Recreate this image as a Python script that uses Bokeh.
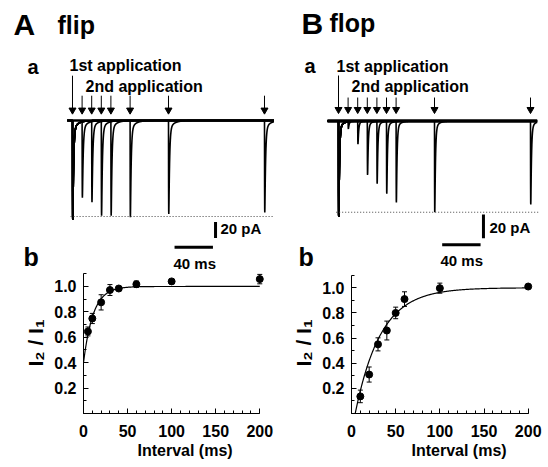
import numpy as np
from bokeh.plotting import figure
from bokeh.models import (Range1d, Label, Whisker, TeeHead, ColumnDataSource,
                          FixedTicker, PrintfTickFormatter, Title)
from bokeh.layouts import column, row
from bokeh.embed import file_html
from bokeh.resources import INLINE

FONT = "Liberation Sans"

# ---------------- data ----------------
# panel b: recovery I2/I1 vs interval
flip_interval_ms = [5, 10, 20, 30, 40, 60, 100, 200]
flip_ratio = [0.646, 0.748, 0.875, 0.972, 0.984, 1.018, 1.040, 1.058]
flip_ratio_err = [0.035, 0.040, 0.060, 0.043, 0.012, 0.025, 0.015, 0.037]
flip_fit_amp = 0.60      # fit: 1 - A*exp(-t/tau)
flip_fit_tau = 11.0

flop_interval_ms = [10, 20, 30, 40, 50, 60, 100, 200]
flop_ratio = [0.136, 0.310, 0.550, 0.660, 0.800, 0.910, 0.997, 1.010]
flop_ratio_err = [0.050, 0.060, 0.052, 0.075, 0.046, 0.058, 0.040, 0.010]
flop_fit_t0 = 4.2        # fit: 1 - exp(-(t-t0)/tau)
flop_fit_tau = 29.0

# panel a: example current traces (peak amplitudes, pA)
flip_trace_interval_ms = [10, 20, 30, 40, 60, 100, 200]
flip_trace_first_pA = 124
flip_trace_second_pA = [95, 102, 119, 119, 121, 117, 115]
flip_I1_level_pA = 120

flop_trace_interval_ms = [10, 20, 30, 40, 50, 60, 100, 200]
flop_trace_first_pA = 81
flop_trace_second_pA = [6, 19.5, 45.5, 53, 61.4, 68.8, 77, 70.5]
flop_I1_level_pA = 77

scale_pA = 20
scale_ms = 40

x_ticks = [0, 50, 100, 150, 200]
y_ticks = [0.2, 0.4, 0.6, 0.8, 1.0]


# ---------------- helpers ----------------
def label(p, x, y, s, size, align="left", baseline="middle"):
    p.add_layout(Label(x=x, y=y, x_units="screen", y_units="screen", text=s,
                       text_font=FONT, text_font_style="bold",
                       text_font_size=f"{size}px", text_align=align,
                       text_baseline=baseline, text_color="black"))


def kernel(d, rise, tau_fast, tau_slow, w_slow):
    dd = np.maximum(d, 0.0)
    k = (1 - np.exp(-dd / rise)) * ((1 - w_slow) * np.exp(-dd / tau_fast)
                                    + w_slow * np.exp(-dd / tau_slow))
    return np.where(d >= 0, k, 0.0)


def sweeps(t, first, intervals, seconds, kp):
    kmax = kernel(np.arange(0, 5, 0.1), *kp).max()
    xs, ys = [], []
    for iv, a2 in zip(intervals, seconds):
        y = -first * kernel(t, *kp) / kmax - a2 * kernel(t - iv, *kp) / kmax
        xs.append(t)
        ys.append(y)
    return xs, ys


def trace_fig(xr, yr):
    p = figure(width=274, height=272, x_range=xr, y_range=yr,
               x_axis_type=None, y_axis_type=None, output_backend="svg",
               toolbar_location=None, min_border=0)
    p.outline_line_color = None
    p.background_fill_color = "white"
    p.border_fill_color = "white"
    return p


def draw_trace(p, t0, t1, first, intervals, seconds, level, kp,
               arrow_top1, arrow_top, arrow_head, base_w,
               dot_x0, dot_x1, vbar_x, vbar_y0, hbar_x0, hbar_y):
    t = np.round(np.arange(t0, t1, 0.1), 2)
    xs, ys = sweeps(t, first, intervals, seconds, kp)
    p.segment(x0=[t0], y0=[0], x1=[t1], y1=[0], line_color="black",
              line_width=base_w)
    p.multi_line(xs, ys, line_color="black", line_width=1.6)
    # dotted reference level (first response)
    p.segment(x0=[dot_x0], y0=[-level], x1=[dot_x1], y1=[-level],
              line_color="#444444", line_width=1, line_dash="1 2")
    # application arrows
    arrow_t = [0] + list(intervals)
    tops = [arrow_top1] + [arrow_top] * len(intervals)
    p.segment(x0=arrow_t, y0=tops, x1=arrow_t, y1=[arrow_head] * len(arrow_t),
              line_color="black", line_width=1)
    p.scatter(arrow_t, [arrow_head] * len(arrow_t), marker="inverted_triangle",
              size=7, color="black")
    # scale bars
    p.segment(x0=[vbar_x], y0=[vbar_y0], x1=[vbar_x], y1=[vbar_y0 - scale_pA],
              line_color="black", line_width=3)
    p.segment(x0=[hbar_x0], y0=[hbar_y], x1=[hbar_x0 + scale_ms], y1=[hbar_y],
              line_color="black", line_width=3)


def recovery_fig(xend, yend, mbl, mbr, mbt, mbb, xlabel_offset):
    p = figure(width=274, height=195, x_range=Range1d(0, xend),
               y_range=Range1d(0, yend), output_backend="svg",
               toolbar_location=None, min_border_left=mbl,
               min_border_right=mbr, min_border_top=mbt,
               min_border_bottom=mbb)
    p.grid.visible = False
    p.outline_line_color = None
    for ax in (p.xaxis[0], p.yaxis[0]):
        ax.axis_line_color = "black"
        ax.axis_line_width = 1
        ax.major_tick_line_color = "black"
        ax.minor_tick_line_color = "black"
        ax.major_tick_in = 5
        ax.major_tick_out = 0
        ax.minor_tick_in = 3
        ax.minor_tick_out = 0
        ax.major_label_text_font = FONT
        ax.major_label_text_font_style = "bold"
        ax.major_label_text_font_size = "16px"
        ax.major_label_text_color = "black"
    p.xaxis.ticker = FixedTicker(ticks=x_ticks,
                                 minor_ticks=list(range(0, 201, 10)))
    p.xaxis.bounds = (0, 200)
    p.xaxis.major_label_standoff = 11
    p.yaxis.ticker = FixedTicker(ticks=y_ticks,
                                 minor_ticks=[i / 10 for i in range(0, 12)])
    p.yaxis.formatter = PrintfTickFormatter(format="%.1f")
    p.yaxis.bounds = (0, 1.1)
    p.yaxis.major_label_standoff = 7
    p.yaxis.axis_label = "I\u2082 / I\u2081"
    p.yaxis.axis_label_text_font = FONT
    p.yaxis.axis_label_text_font_style = "bold"
    p.yaxis.axis_label_text_font_size = "21px"
    p.yaxis.axis_label_text_color = "black"
    p.yaxis.axis_label_standoff = 4
    p.add_layout(Title(text="Interval (ms)", align="left", offset=xlabel_offset,
                       standoff=0, text_font=FONT, text_font_style="bold",
                       text_font_size="16px", text_color="black"), "below")
    return p


def draw_recovery(p, xv, yv, ev, tfit, yfit):
    src = ColumnDataSource(dict(x=xv, y=yv,
                                lo=[a - b for a, b in zip(yv, ev)],
                                hi=[a + b for a, b in zip(yv, ev)]))
    p.add_layout(Whisker(source=src, base="x", lower="lo", upper="hi",
                         line_color="black", line_width=1,
                         upper_head=TeeHead(size=5, line_width=1, line_color="black"),
                         lower_head=TeeHead(size=5, line_width=1, line_color="black")))
    p.line(tfit, yfit, line_color="black", line_width=1.2)
    p.scatter("x", "y", source=src, size=7, color="black")


# ---------------- A a : flip traces ----------------
pa = trace_fig(Range1d(-75.0, 210.42), Range1d(-190, 150))
draw_trace(pa, -5.5, 210.4, flip_trace_first_pA, flip_trace_interval_ms,
           flip_trace_second_pA, flip_I1_level_pA,
           (0.15, 0.8, 5.0, 0.06),
           arrow_top1=56, arrow_top=31, arrow_head=13, base_w=2.6,
           dot_x0=-2, dot_x1=210.4, vbar_x=149, vbar_y0=-127,
           hbar_x0=106.3, hbar_y=-158.4)
label(pa, 13, 248, "A", 30)
label(pa, 57, 248, "flip", 25)
label(pa, 27, 206, "a", 20)
label(pa, 69, 207, "1st application", 16)
label(pa, 85, 186, "2nd application", 16)
label(pa, 220, 44, "20 pA", 15)
label(pa, 173, 9, "40 ms", 15)
label(pa, 23, 16, "b", 25)

# ---------------- B a : flop traces ----------------
pb = trace_fig(Range1d(-66.67, 218.75), Range1d(-127.85, 101.7))
draw_trace(pb, -11.5, 207, flop_trace_first_pA, flop_trace_interval_ms,
           flop_trace_second_pA, flop_I1_level_pA,
           (0.15, 0.7, 4.0, 0.05),
           arrow_top1=38.4, arrow_top=19.8, arrow_head=9.7, base_w=3.4,
           dot_x0=-2.4, dot_x1=209, vbar_x=151, vbar_y0=-79,
           hbar_x0=108, hbar_y=-104.5)
label(pb, 27, 249.5, "B", 30)
label(pb, 55, 249.5, "flop", 25)
label(pb, 30, 207, "a", 20)
label(pb, 62, 206, "1st application", 16)
label(pb, 77, 186, "2nd application", 16)
label(pb, 215, 45, "20 pA", 15)
label(pb, 166, 12, "40 ms", 15)
label(pb, 24, 16, "b", 25)

# ---------------- A b : flip recovery ----------------
pc = recovery_fig(209.9, 1.110, 83, 6, 0, 54, 54)
tf = np.linspace(0, 200, 401)
draw_recovery(pc, flip_interval_ms, flip_ratio, flip_ratio_err, tf,
              1 - flip_fit_amp * np.exp(-tf / flip_fit_tau))

# ---------------- B b : flop recovery ----------------
pd_ = recovery_fig(213.9, 1.1216, 77, 8, 0, 52, 60)
tf2 = np.linspace(flop_fit_t0, 200, 401)
draw_recovery(pd_, flop_interval_ms, flop_ratio, flop_ratio_err, tf2,
              1 - np.exp(-(tf2 - flop_fit_t0) / flop_fit_tau))

layout = column(row(pa, pb), row(pc, pd_))
open("out.html", "w").write(file_html(layout, INLINE))
